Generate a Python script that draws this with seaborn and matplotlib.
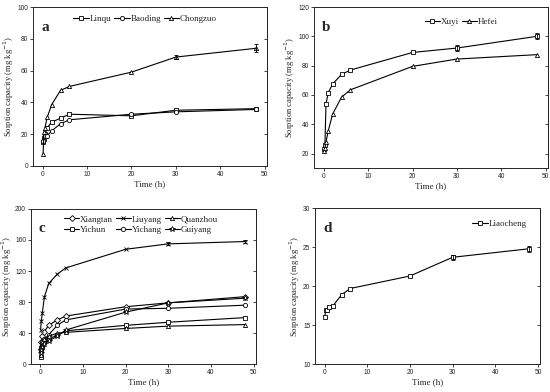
import numpy as np
import pandas as pd
import matplotlib
matplotlib.use("Agg")
import matplotlib.pyplot as plt
import seaborn as sns

sns.set_style("ticks")
plt.rcParams['font.family'] = ['Liberation Serif', 'DejaVu Serif']

# sampling times (h)
hours = [0.083, 0.25, 0.5, 1, 2, 4, 6, 20, 30, 48]

# panel a
linqu = [15, 17, 20, 24, 27.5, 30, 32.5, 31.5, 35, 36]
baoding = [15.5, 18, 18.5, 19, 22, 26.5, 29, 32.5, 34, 35.5]
chongzuo = [7.5, 21, 24, 30.5, 38.5, 47.5, 50, 59, 68.5, 74]
chongzuo_err = [0.5, 0.5, 0.5, 0.5, 0.5, 0.8, 0.8, 1.0, 1.2, 2.5]

# panel b
xuyi = [23, 26, 54, 61.5, 67.5, 74, 77, 89, 92, 100]
xuyi_err = [1, 1, 1, 1, 1, 1, 1, 1, 2, 2]
hefei = [21.5, 24, 28, 35.5, 47, 58.5, 63.5, 79.5, 84.5, 87.5]

# panel c
xiangtan = [20, 28, 36, 42, 50, 57, 62, 74, 79, 87]
liuyang = [44, 55, 66, 87, 104, 116, 124, 148, 155, 158]
liuyang_err = [1, 1, 1, 1, 1, 1, 1, 1.5, 2, 2]
quanzhou = [12, 22, 28, 32, 36, 40, 41, 46, 49, 51]
yichun = [9, 18, 24, 28, 33, 37, 43, 50, 54, 60]
yichang = [16, 22, 28, 32, 38, 50, 57, 71, 72, 76]
guiyang = [14, 18, 22, 26, 30, 36, 44, 67, 79, 85]

# panel d
liaocheng = [16.1, 16.9, 17.0, 17.3, 17.5, 18.9, 19.7, 21.3, 23.7, 24.8]
liaocheng_err = [0.2, 0.2, 0.2, 0.2, 0.2, 0.2, 0.2, 0.2, 0.3, 0.4]

panels = [
    ("a", [("Linqu", linqu, "s", None), ("Baoding", baoding, "o", None),
           ("Chongzuo", chongzuo, "^", chongzuo_err)],
     (0, 100), np.arange(0, 101, 20), 3),
    ("b", [("Xuyi", xuyi, "s", xuyi_err), ("Hefei", hefei, "^", None)],
     (10, 120), np.arange(20, 121, 20), 2),
    ("c", [("Xiangtan", xiangtan, "D", None), ("Yichun", yichun, "s", None),
           ("Liuyang", liuyang, "x", liuyang_err), ("Yichang", yichang, "o", None),
           ("Quanzhou", quanzhou, "^", None), ("Guiyang", guiyang, "*", None)],
     (0, 200), np.arange(0, 201, 40), 3),
    ("d", [("Liaocheng", liaocheng, "s", liaocheng_err)],
     (10, 30), np.arange(10, 31, 5), 1),
]

boxes = [
    [0.060, 0.577, 0.425, 0.405],
    [0.571, 0.571, 0.425, 0.411],
    [0.056, 0.071, 0.409, 0.396],
    [0.573, 0.071, 0.409, 0.398],
]

legend_pos = {
    "a": ("center", (0.48, 0.925)),
    "b": ("center", (0.63, 0.91)),
    "c": ("center", (0.49, 0.90)),
    "d": ("center right", (0.94, 0.90)),
}

fig = plt.figure(figsize=(5.5, 3.92), dpi=100)

for (letter, series, ylim, yticks, ncol), box in zip(panels, boxes):
    ax = fig.add_axes(box)
    for name, vals, mk, err in series:
        df = pd.DataFrame({"Time": hours, "q": vals})
        sns.lineplot(data=df, x="Time", y="q", ax=ax, color="k", lw=0.8,
                     marker=mk, markersize=3 if mk != "*" else 4,
                     markerfacecolor="white" if mk != "x" else "k",
                     markeredgecolor="k", markeredgewidth=0.6, label=name)
        if err is not None:
            ax.errorbar(hours[-2:], vals[-2:], yerr=err[-2:], fmt="none",
                        ecolor="k", elinewidth=0.6, capsize=1.5, capthick=0.6)
    ax.set_xlim(-2.2, 50.5)
    ax.set_ylim(*ylim)
    ax.set_xticks(np.arange(0, 51, 10))
    ax.set_yticks(yticks)
    ax.set_xlabel("Time (h)", fontsize=6.5, labelpad=2)
    ax.set_ylabel("Sorption capacity (mg kg$^{-1}$)", fontsize=6.2, labelpad=1)
    ax.tick_params(axis="both", labelsize=4.8, length=2.2, width=0.6,
                   direction="out", pad=1.2)
    for lab in ax.get_xticklabels() + ax.get_yticklabels():
        lab.set_family("Liberation Sans")
    # inward ticks on the right spine only
    sec = ax.secondary_yaxis("right")
    sec.set_yticks(yticks)
    sec.tick_params(direction="in", length=2.2, width=0.6, labelright=False)
    for s in list(ax.spines.values()) + list(sec.spines.values()):
        s.set_linewidth(0.7)
    ax.text(0.035, 0.85, letter, transform=ax.transAxes, fontsize=11,
            fontweight="bold")
    loc, anchor = legend_pos[letter]
    ax.legend(ncol=ncol, loc=loc, bbox_to_anchor=anchor, frameon=False,
              fontsize=6.5, handlelength=1.7, handletextpad=0.1,
              columnspacing=0.3, labelspacing=0.2, borderaxespad=0.0,
              borderpad=0.0)

fig.savefig("out.png", dpi=100)
